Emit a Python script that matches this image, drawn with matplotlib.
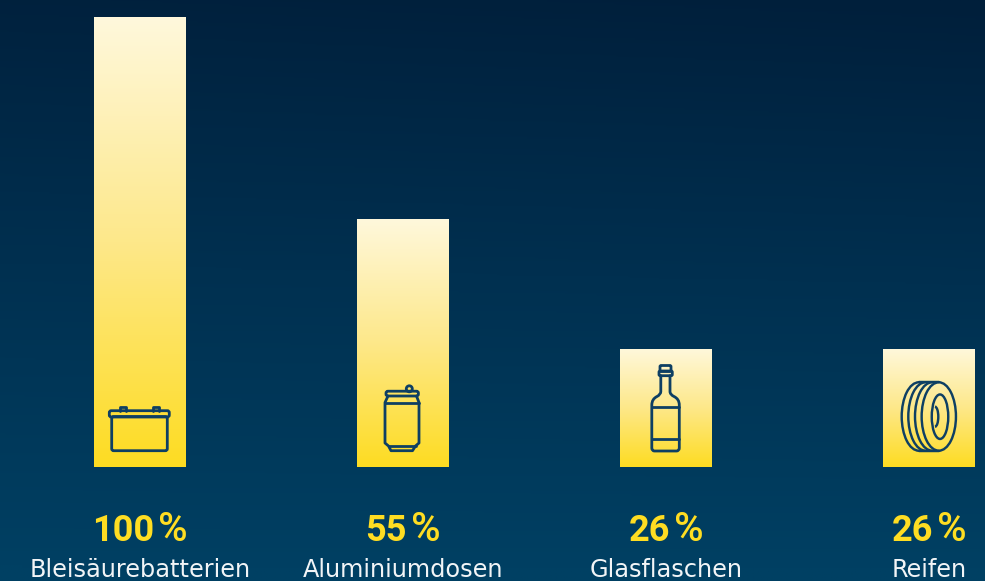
import numpy as np
import matplotlib
matplotlib.use("Agg")
import matplotlib.pyplot as plt
from matplotlib.patches import FancyBboxPatch, Arc, Circle, Ellipse, PathPatch
from matplotlib.path import Path
from matplotlib.transforms import Affine2D
from matplotlib.colors import LinearSegmentedColormap

categories = ["Bleisäurebatterien", "Aluminiumdosen", "Glasflaschen", "Reifen"]
values = [100, 55.2, 26.3, 26.3]
value_labels = ["100", "55", "26", "26"]

W, H = 985, 581
NAVY = "#0E3F63"
YELLOW = "#FFDD22"
fig = plt.figure(figsize=(W / 100, H / 100), dpi=100)
ax = fig.add_axes([0, 0, 1, 1])
ax.set_xlim(-139.7 / 263.1, (W - 139.7) / 263.1)
ax.set_ylim(-(H - 467) / 4.5, 467 / 4.5)
ax.axis("off")

# background
yy, xx = np.mgrid[0:1:200j, 0:1:200j]
bg = LinearSegmentedColormap.from_list("bg", ["#001F3B", "#003050", "#004063"])
t = np.clip(yy * 1.02 + (1 - xx) * 0.07 * (1 - yy), 0, 1)
x0, x1 = ax.get_xlim(); y0, y1 = ax.get_ylim()
ax.imshow(t, extent=(x0, x1, y0, y1), cmap=bg, vmin=0, vmax=1, aspect="auto", zorder=0)

# bars
barcmap = LinearSegmentedColormap.from_list("bar", ["#FFF8DC", "#FDE88A", "#FEDC22"])
grad = np.linspace(0, 1, 256).reshape(-1, 1)
bars = ax.bar(range(len(values)), values, width=91.5 / 263.1, color="#FDE88A", zorder=1)
for b in bars:
    im = ax.imshow(grad, extent=(b.get_x(), b.get_x() + b.get_width(), 0, b.get_height()),
                   cmap=barcmap, aspect="auto", zorder=2)
    im.set_clip_path(b)
ax.set_xlim(x0, x1); ax.set_ylim(y0, y1)

# icons, in figure pixels measured from the top left
px = Affine2D().scale(1, -1).translate(0, H)
st = dict(fill=False, ec=NAVY, lw=2.0, transform=px, zorder=5, clip_on=False)
st_tyre = dict(st, lw=1.75)

def rrect(x0, y0, x1, y1, r=1.5):
    ax.add_patch(FancyBboxPatch((x0 + r, y0 + r), x1 - x0 - 2 * r, y1 - y0 - 2 * r,
                                boxstyle=f"round,pad={r},rounding_size={r}", **st))

def poly(pts, codes=None, style=st):
    ax.add_patch(PathPatch(Path(pts, codes), capstyle="round", joinstyle="round", **style))

# battery
rrect(111.7, 416.5, 167.3, 450.7, 2)
rrect(109.3, 410.7, 169.3, 417, 2)
poly([(119.5, 410.7), (119.5, 407), (125.5, 407), (125.5, 410.7)])
poly([(152.8, 410.7), (152.8, 407), (159, 407), (159, 410.7)])

# can
poly([(388, 396), (385, 402.5), (385, 443), (388.5, 446), (391, 450.7), (412.5, 450.7),
      (415.5, 446), (419, 443), (419, 402.5), (416.5, 396)])
rrect(386, 391.2, 418.4, 396, 2)
poly([(385, 402.5), (419, 402.5)])
poly([(388.5, 446), (415.5, 446)])
ax.add_patch(Circle((409.3, 388.8), 3, **st))

# bottle
C3 = Path.CURVE3
bottle = [(660.8, 375.7), (660.8, 391.5), (660.8, 394.5), (657, 396.5), (651.8, 399), (651.8, 405),
          (651.8, 448), (651.8, 451), (654.5, 451), (676.5, 451), (679.3, 451), (679.3, 448),
          (679.3, 405), (679.3, 399), (674, 396.5), (670, 394.5), (670, 391.5), (670, 375.7)]
codes = [Path.MOVETO, Path.LINETO, C3, C3, C3, C3, Path.LINETO, C3, C3, Path.LINETO, C3, C3,
         Path.LINETO, C3, C3, C3, C3, Path.LINETO]
poly(bottle, codes)
rrect(660, 365.5, 671, 371.5, 1.2)
rrect(659, 371, 672.3, 375.7, 1.2)
poly([(651.8, 407.3), (679.3, 407.3)])
poly([(651.8, 439.3), (679.3, 439.3)])

# tyre
cy, h, w = 416.5, 68.4, 34.3
ax.add_patch(Ellipse((938.8, cy), w, h, **st_tyre))
ax.add_patch(Ellipse((940, 416.7), 16.5, 44.5, **st_tyre))
ax.add_patch(Arc((935, 416.7), 6.6, 20, theta1=-90, theta2=90, **st_tyre))
for left in (901.7, 908.3, 915):
    cx = left + w / 2
    ax.add_patch(Arc((cx, cy), w, h, theta1=90, theta2=270, **st_tyre))
poly([(901.7 + w / 2, cy - h / 2), (938.8, cy - h / 2)], style=st_tyre)
poly([(901.7 + w / 2, cy + h / 2), (938.8, cy + h / 2)], style=st_tyre)

# labels
fig.canvas.draw()
r = fig.canvas.get_renderer()
for i, (lab, cat) in enumerate(zip(value_labels, categories)):
    c = bars[i].get_x() + bars[i].get_width() / 2
    cpx = ax.transData.transform((c, 0))[0]
    a = ax.text(0, 0, lab, family="Roboto", weight="bold", fontsize=26, color=YELLOW,
                ha="right", va="baseline", transform=px, zorder=6)
    p = ax.text(0, 0, "%", family="Roboto", weight="medium", fontsize=29, color=YELLOW,
                ha="left", va="baseline", transform=px, zorder=6)
    wa = a.get_window_extent(r).width; wp = p.get_window_extent(r).width
    gap = 4
    right = cpx + (wa + gap + wp) / 2 - wp - gap
    a.set_position((right, 540.7))
    p.set_position((right + gap, 540.7))
    ax.text(cpx, 577.3, cat, family="DejaVu Sans", fontsize=17.3, color="#F2F5F7",
            ha="center", va="baseline", transform=px, zorder=6)

fig.savefig("out.png", dpi=100)
